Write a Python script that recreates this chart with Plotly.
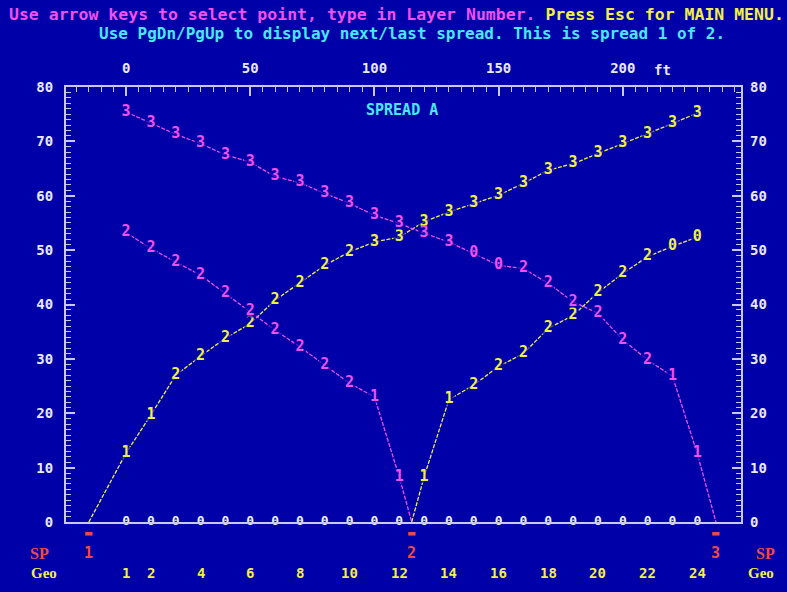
import plotly.graph_objects as go

# Geophone layout (ft) and shot point positions
geo_num = list(range(1, 25))
geo_ft = [10 * (n - 1) for n in geo_num]
geo_tick_nums = [1, 2, 4, 6, 8, 10, 12, 14, 16, 18, 20, 22, 24]
sp_num = [1, 2, 3]
sp_ft = [-15, 115, 237.5]

# First-break picks (ms) with assigned layer numbers
sp1_fwd_t = [12.7, 19.7, 27.0, 30.5, 33.8, 36.5, 40.8, 44.0, 47.2, 49.7, 51.5, 52.4,
             55.2, 57.0, 58.6, 60.1, 62.3, 64.7, 65.9, 67.8, 69.6, 71.4, 73.3, 75.2]
sp1_fwd_layer = ["1", "1"] + ["2"] * 8 + ["3"] * 14

sp2_rev_t = [53.2, 50.3, 47.8, 45.4, 42.0, 38.7, 35.3, 32.2, 28.9, 25.5, 23.0, 8.3]
sp2_rev_layer = ["2"] * 10 + ["1", "1"]

sp2_fwd_t = [8.3, 22.5, 25.2, 28.6, 31.0, 35.6, 38.0, 42.2, 45.7, 48.8, 50.7, 52.4]
sp2_fwd_layer = ["1", "1"] + ["2"] * 8 + ["0", "0"]

sp3_rev_t = [75.4, 73.3, 71.3, 69.6, 67.5, 66.2, 63.5, 62.4, 60.4, 58.6, 56.4, 54.9,
             53.1, 51.5, 49.4, 47.2, 46.6, 43.9, 40.5, 38.4, 33.5, 29.8, 26.8, 12.6]
sp3_rev_layer = ["3"] * 14 + ["0", "0"] + ["2"] * 6 + ["1", "1"]

top_ticks = [0, 50, 100, 150, 200]
y_ticks = [0, 10, 20, 30, 40, 50, 60, 70, 80]

BG = "#0000A8"
AXIS = "#C8C8F0"
LABEL = "#E8E8FF"
MAGENTA = "#F050F0"
YELLOW = "#F0F048"
CYAN = "#48E8F8"
RED = "#F04848"
FONT = "DejaVu Sans Mono"

fig = go.Figure()


def pick_trace(x, t, labels, color):
    sizes = [0 if lab == "" else 12 for lab in labels]
    return go.Scatter(
        x=x, y=t, mode="lines+markers+text", text=labels,
        textposition="middle center",
        textfont=dict(family=FONT, size=15, color=color, weight="bold"),
        line=dict(color=color, width=1.3, dash="4px,1.5px"),
        marker=dict(symbol="square", size=sizes, color=BG, line=dict(width=0)),
        cliponaxis=False, showlegend=False, hoverinfo="skip",
    )


# Forward shot from SP1 across the whole spread
fig.add_trace(pick_trace([sp_ft[0]] + geo_ft, [0] + sp1_fwd_t, [""] + sp1_fwd_layer, YELLOW))
# Centre shot SP2: reverse (geophones 1-12) and forward (13-24)
fig.add_trace(pick_trace(geo_ft[:12] + [sp_ft[1]], sp2_rev_t + [0], sp2_rev_layer + [""], MAGENTA))
fig.add_trace(pick_trace([sp_ft[1]] + geo_ft[12:], [0] + sp2_fwd_t, [""] + sp2_fwd_layer, YELLOW))
# Reverse shot from SP3
fig.add_trace(pick_trace(geo_ft + [sp_ft[2]], sp3_rev_t + [0], sp3_rev_layer + [""], MAGENTA))

# Geophone markers along the zero line
fig.add_trace(go.Scatter(
    x=geo_ft, y=[0] * len(geo_ft), mode="text", text=["0"] * len(geo_ft),
    textposition="middle center",
    textfont=dict(family=FONT, size=13, color="#F0F0FF", weight="bold"),
    cliponaxis=False, showlegend=False, hoverinfo="skip",
))

# Right-hand time axis trace (keeps yaxis2 active)
fig.add_trace(go.Scatter(x=[geo_ft[0]], y=[0], yaxis="y2", mode="markers",
                         marker=dict(size=0, opacity=0), showlegend=False, hoverinfo="skip"))

tick_font = dict(family=FONT, size=14, color=LABEL, weight="bold")

fig.update_layout(
    width=787, height=592,
    margin=dict(l=66, r=46, t=87, b=70),
    paper_bgcolor=BG, plot_bgcolor=BG,
    xaxis=dict(
        range=[-24.2, 247.6], side="top", showgrid=False, zeroline=False,
        showline=True, linecolor=AXIS, linewidth=2, mirror=True,
        tickmode="array", tickvals=top_ticks, ticktext=[str(v) for v in top_ticks],
        ticks="inside", ticklen=9, tickwidth=2, tickcolor=AXIS,
        minor=dict(dtick=5, tick0=0, ticks="inside", ticklen=5, tickwidth=1, tickcolor=AXIS),
        tickfont=tick_font, ticklabelstandoff=6,
    ),
    yaxis=dict(
        range=[0, 80], showgrid=False, zeroline=False,
        showline=True, linecolor=AXIS, linewidth=2, mirror=True,
        tickmode="array", tickvals=y_ticks, ticktext=[str(v) for v in y_ticks],
        ticks="inside", ticklen=9, tickwidth=2, tickcolor=AXIS,
        minor=dict(dtick=1, tick0=0, ticks="inside", ticklen=5, tickwidth=1, tickcolor=AXIS),
        tickfont=tick_font, ticklabelstandoff=8,
    ),
    yaxis2=dict(
        range=[0, 80], overlaying="y", side="right", showgrid=False, zeroline=False,
        showline=False,
        tickmode="array", tickvals=y_ticks, ticktext=[str(v) for v in y_ticks],
        ticks="inside", ticklen=9, tickwidth=2, tickcolor=AXIS,
        minor=dict(dtick=1, tick0=0, ticks="inside", ticklen=5, tickwidth=1, tickcolor=AXIS),
        tickfont=tick_font, ticklabelstandoff=8,
    ),
)

ann = []
# Instruction lines
ann.append(dict(
    xref="paper", yref="paper", x=0.489, y=1.166, xanchor="center", yanchor="middle",
    showarrow=False, font=dict(family=FONT, size=16.5, color=MAGENTA, weight="bold"),
    text=("Use arrow keys to select point, type in Layer Number. "
          f"<span style='color:{YELLOW}'>Press Esc for MAIN MENU.</span>"),
))
ann.append(dict(
    xref="paper", yref="paper", x=0.513, y=1.124, xanchor="center", yanchor="middle",
    showarrow=False, font=dict(family=FONT, size=16, color=CYAN, weight="bold"),
    text="Use PgDn/PgUp to display next/last spread. This is spread 1 of 2.",
))
# Spread title
ann.append(dict(xref="x", yref="paper", x=111, y=0.947, xanchor="center", yanchor="middle",
                showarrow=False, text="SPREAD A",
                font=dict(family=FONT, size=15, color=CYAN, weight="bold")))
# Distance unit on the top axis
ann.append(dict(xref="x", yref="paper", x=216, y=1.04, xanchor="center", yanchor="middle",
                showarrow=False, text="ft", font=tick_font))

# Shot point markers and numbers
for n, xf in zip(sp_num, sp_ft):
    ann.append(dict(xref="x", yref="paper", x=xf, y=-0.026, xanchor="center", yanchor="middle",
                    showarrow=False, text="▬", font=dict(family=FONT, size=12, color=RED)))
    ann.append(dict(xref="x", yref="paper", x=xf, y=-0.072, xanchor="center", yanchor="middle",
                    showarrow=False, text=str(n),
                    font=dict(family=FONT, size=15, color=RED, weight="bold")))

# Geophone numbers
for n in geo_tick_nums:
    ann.append(dict(xref="x", yref="paper", x=geo_ft[n - 1], y=-0.118, xanchor="center",
                    yanchor="middle", showarrow=False, text=str(n),
                    font=dict(family=FONT, size=14, color=YELLOW, weight="bold")))

# Row captions on both sides
for xp in (-0.039, 1.037):
    ann.append(dict(xref="paper", yref="paper", x=xp, y=-0.072, xanchor="center",
                    yanchor="middle", showarrow=False, text="SP",
                    font=dict(family="Liberation Serif", size=16, color=RED, weight="bold")))
for xp in (-0.033, 1.030):
    ann.append(dict(xref="paper", yref="paper", x=xp, y=-0.118, xanchor="center",
                    yanchor="middle", showarrow=False, text="Geo",
                    font=dict(family="Liberation Serif", size=15, color=YELLOW, weight="bold")))

fig.update_layout(annotations=ann)

fig.write_html("out.html")
